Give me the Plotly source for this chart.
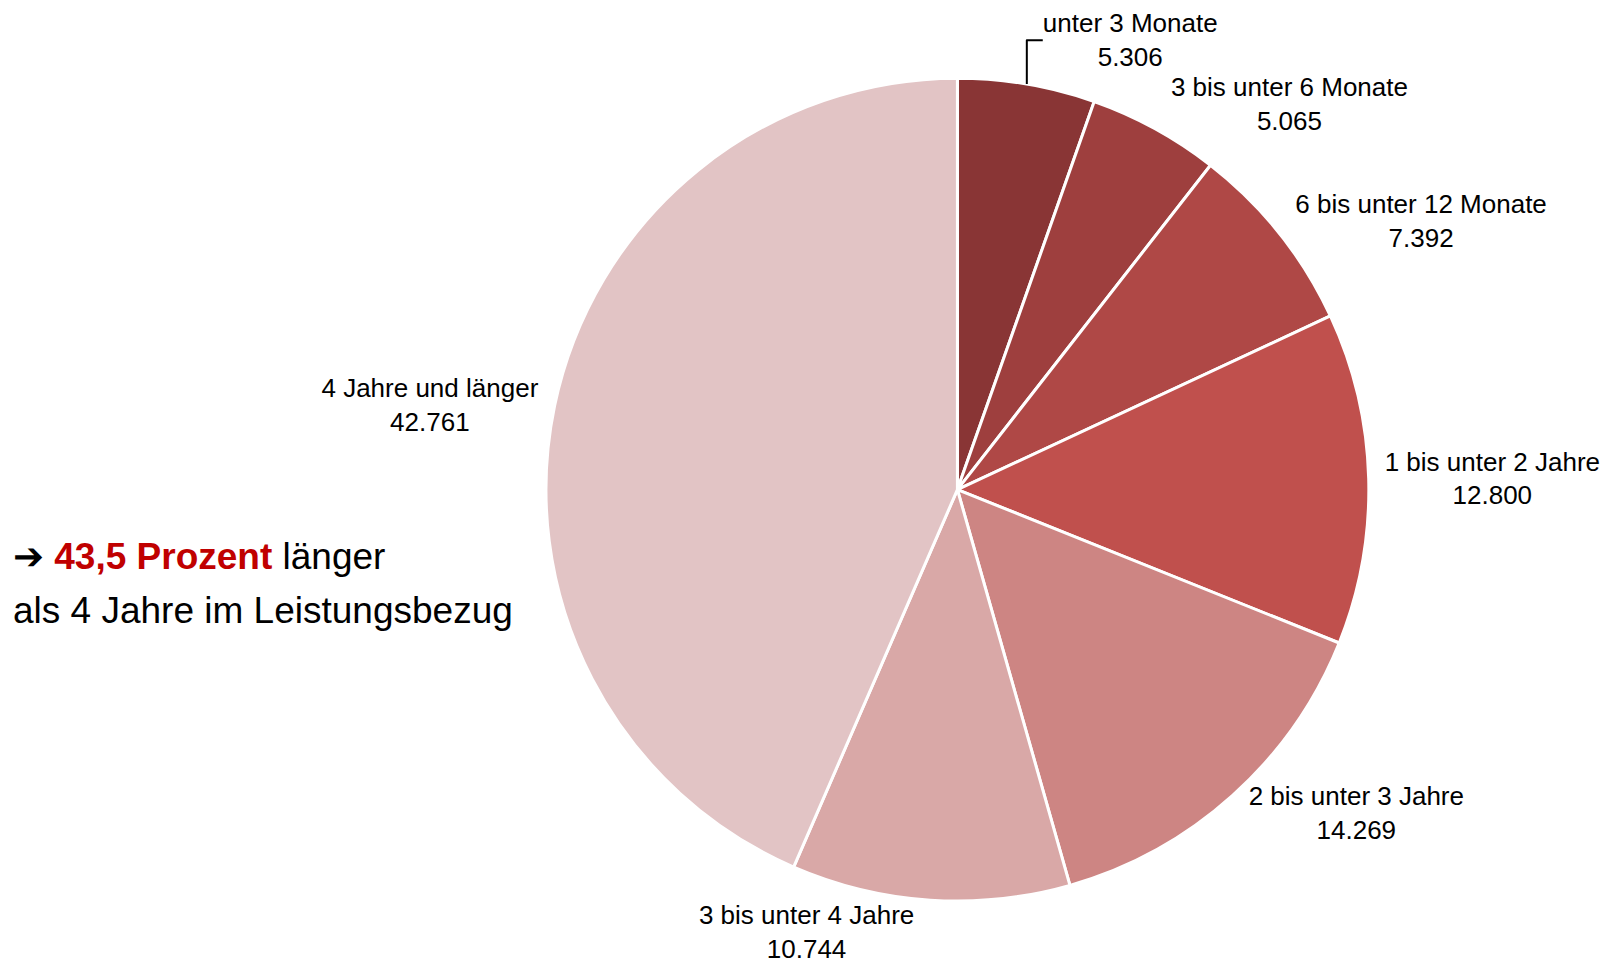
import plotly.graph_objects as go

# Dauer des Leistungsbezugs
categories = [
    "unter 3 Monate",
    "3 bis unter 6 Monate",
    "6 bis unter 12 Monate",
    "1 bis unter 2 Jahre",
    "2 bis unter 3 Jahre",
    "3 bis unter 4 Jahre",
    "4 Jahre und länger",
]
values = [5306, 5065, 7392, 12800, 14269, 10744, 42761]
colors = ["#893535", "#9E3F3E", "#AF4846", "#C0504D", "#CD8583", "#D9A8A7", "#E2C4C5"]

share_long = 43.5

FONT = "Liberation Sans, Arial, sans-serif"

fig = go.Figure(
    go.Pie(
        labels=categories,
        values=values,
        sort=False,
        direction="clockwise",
        rotation=0,
        marker=dict(colors=colors, line=dict(color="white", width=3)),
        textposition="outside",
        texttemplate="%{label}<br>%{value:,}",
        textfont=dict(family=FONT, size=26, color="black"),
        hoverinfo="label+value",
        domain=dict(x=[0.3364, 0.8434], y=[0.0804, 0.9204]),
        showlegend=False,
    )
)

share_txt = f"{share_long:.1f}".replace(".", ",")
fig.add_annotation(
    x=0.007, y=0.432, xref="paper", yref="paper", xanchor="left", yanchor="middle",
    text=f"➔ <b><span style='color:#C00000'>{share_txt} Prozent</span></b> länger",
    showarrow=False,
    font=dict(family=FONT, size=37, color="black"),
)
fig.add_annotation(
    x=0.007, y=0.377, xref="paper", yref="paper", xanchor="left", yanchor="middle",
    text="als 4 Jahre im Leistungsbezug",
    showarrow=False,
    font=dict(family=FONT, size=37, color="black"),
)

fig.update_layout(
    width=1623,
    height=980,
    margin=dict(l=0, r=0, t=0, b=0),
    paper_bgcolor="white",
    plot_bgcolor="white",
    separators=",.",
)

fig.write_html("out.html")
